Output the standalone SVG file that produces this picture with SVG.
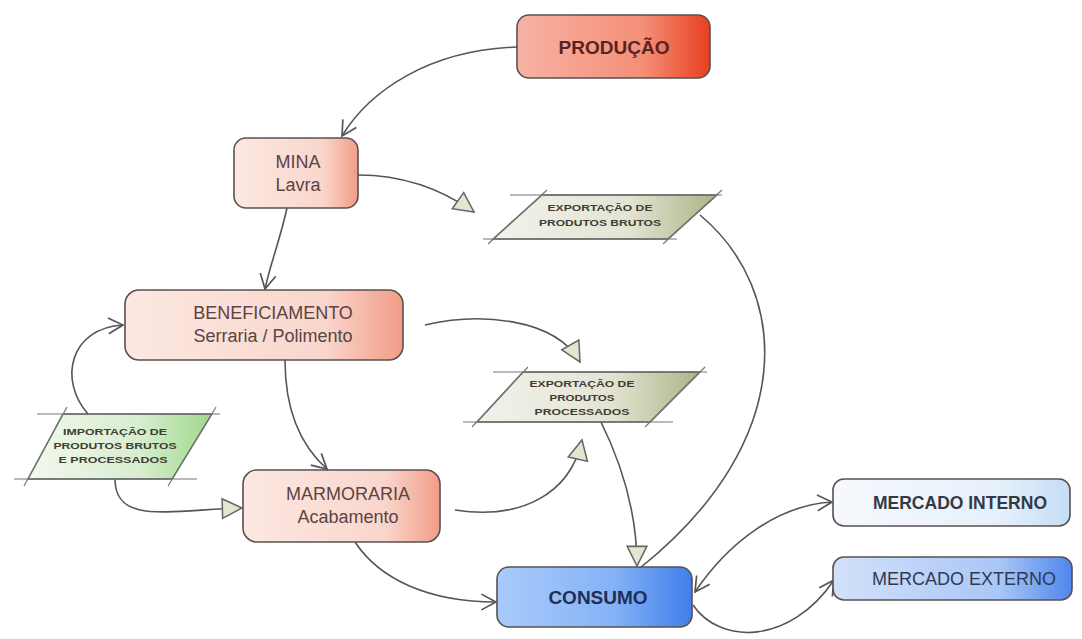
<svg xmlns="http://www.w3.org/2000/svg" width="1082" height="639" viewBox="0 0 1082 639">
<style>
.box{stroke:#5a5050;stroke-width:1.6}
.conn{fill:none;stroke:#555;stroke-width:1.6}
.t{font-family:"Liberation Sans",Arial,sans-serif;text-anchor:middle}
.big{font-size:18px;fill:#5a4444}
.bold{font-weight:bold}
.small{font-size:8.5px;font-weight:bold;fill:#3d3d33}
.para{stroke:#555;stroke-width:1.4}
.ext{stroke:#777;stroke-width:1.2;fill:none}
</style>
<defs>
<linearGradient id="gProd" x1="0" y1="0" x2="1" y2="0">
<stop offset="0" stop-color="#f7b2a4"/><stop offset="0.65" stop-color="#f48f78"/><stop offset="1" stop-color="#e8401f"/>
</linearGradient>
<linearGradient id="gPink" x1="0" y1="0" x2="1" y2="0">
<stop offset="0" stop-color="#fce8e2"/><stop offset="0.72" stop-color="#f9d6cc"/><stop offset="1" stop-color="#f29c86"/>
</linearGradient>
<linearGradient id="gGrey" x1="0" y1="0" x2="1" y2="0">
<stop offset="0" stop-color="#f2f2ec"/><stop offset="0.6" stop-color="#e3e4d4"/><stop offset="1" stop-color="#aeb385"/>
</linearGradient>
<linearGradient id="gGreen" x1="0" y1="0" x2="1" y2="0">
<stop offset="0" stop-color="#f2f8ee"/><stop offset="0.6" stop-color="#d8eed0"/><stop offset="1" stop-color="#9fd88c"/>
</linearGradient>
<linearGradient id="gCons" x1="0" y1="0" x2="1" y2="0">
<stop offset="0" stop-color="#a9cbfa"/><stop offset="0.6" stop-color="#85b2f6"/><stop offset="1" stop-color="#3f7fea"/>
</linearGradient>
<linearGradient id="gInt" x1="0" y1="0" x2="1" y2="0">
<stop offset="0" stop-color="#f6f9fd"/><stop offset="0.7" stop-color="#e6f0fb"/><stop offset="1" stop-color="#c4ddf6"/>
</linearGradient>
<linearGradient id="gExt" x1="0" y1="0" x2="1" y2="0">
<stop offset="0" stop-color="#d2e1fa"/><stop offset="0.7" stop-color="#a9c6f6"/><stop offset="1" stop-color="#4f86ec"/>
</linearGradient>
<marker id="open" markerUnits="userSpaceOnUse" markerWidth="18" markerHeight="18" viewBox="0 0 16 16" refX="14" refY="8" orient="auto">
<path d="M1,1 L14,8 L1,15" fill="none" stroke="#555" stroke-width="1.5"/>
</marker>
<marker id="openS" markerUnits="userSpaceOnUse" markerWidth="18" markerHeight="18" viewBox="0 0 16 16" refX="2" refY="8" orient="auto">
<path d="M15,1 L2,8 L15,15" fill="none" stroke="#555" stroke-width="1.5"/>
</marker>
<marker id="tri" markerUnits="userSpaceOnUse" markerWidth="24" markerHeight="24" viewBox="0 0 22 22" refX="20" refY="11" orient="auto">
<path d="M2,2 L20,11 L2,20 Z" fill="#e4e6d2" stroke="#666" stroke-width="1.4"/>
</marker>
</defs>

<g id="connectors">
<path class="conn" d="M517,47 C430,50 370,90 342,136" marker-end="url(#open)"/>
<path class="conn" d="M358,175 C400,175 440,188 474,212" marker-end="url(#tri)"/>
<path class="conn" d="M287,208 C280,240 270,265 265,289" marker-end="url(#open)"/>
<path class="conn" d="M425,325 C480,312 555,318 580,362" marker-end="url(#tri)"/>
<path class="conn" d="M285,360 C285,410 300,445 327,469" marker-end="url(#open)"/>
<path class="conn" d="M88,414 C58,380 70,328 123,325" marker-end="url(#open)"/>
<path class="conn" d="M115,479 C115,525 170,510 242,508" marker-end="url(#tri)"/>
<path class="conn" d="M455,510 C520,520 570,495 582,440" marker-end="url(#tri)"/>
<path class="conn" d="M355,542 C380,580 430,602 496,602" marker-end="url(#open)"/>
<path class="conn" d="M600,420 C625,470 637,520 637,566" marker-end="url(#tri)"/>
<path class="conn" d="M700,215 C790,290 800,440 640,568"/>
<path class="conn" d="M695,592 C730,540 780,505 832,502" marker-start="url(#openS)" marker-end="url(#open)"/>
<path class="conn" d="M693,605 C720,645 790,645 834,580" marker-end="url(#open)"/>
</g>

<g id="producao">
<rect class="box" x="517" y="15" width="193" height="63" rx="12" fill="url(#gProd)"/>
<text class="t bold" x="614" y="54" font-size="19" fill="#5a2222">PRODUÇÃO</text>
</g>

<g id="mina">
<rect class="box" x="234" y="138" width="124" height="70" rx="12" fill="url(#gPink)"/>
<text class="t big" x="298" y="168">MINA</text>
<text class="t big" x="298" y="191">Lavra</text>
</g>

<g id="export-brutos">
<polygon class="para" points="542,195 717,195 668,239 493,239" fill="url(#gGrey)"/>
<path class="ext" d="M510,195 H722 M483,239 H677 M547,190 L488,244 M722,190 L663,244"/>
<text class="t small" x="600" y="211" textLength="105" lengthAdjust="spacingAndGlyphs">EXPORTAÇÃO DE</text>
<text class="t small" x="600" y="226" textLength="122" lengthAdjust="spacingAndGlyphs">PRODUTOS BRUTOS</text>
</g>

<g id="beneficiamento">
<rect class="box" x="125" y="290" width="278" height="70" rx="14" fill="url(#gPink)"/>
<text class="t big" x="273" y="319">BENEFICIAMENTO</text>
<text class="t big" x="273" y="342">Serraria / Polimento</text>
</g>

<g id="export-processados">
<polygon class="para" points="523,372 700,372 650,422 477,422" fill="url(#gGrey)"/>
<path class="ext" d="M493,372 H707 M463,422 H673 M528,367 L472,427 M705,367 L645,427"/>
<text class="t small" x="582" y="387" textLength="105" lengthAdjust="spacingAndGlyphs">EXPORTAÇÃO DE</text>
<text class="t small" x="582" y="401" textLength="65" lengthAdjust="spacingAndGlyphs">PRODUTOS</text>
<text class="t small" x="582" y="415" textLength="95" lengthAdjust="spacingAndGlyphs">PROCESSADOS</text>
</g>

<g id="importacao">
<polygon class="para" points="63,414 212,414 172,479 28,479" fill="url(#gGreen)"/>
<path class="ext" d="M37,414 H220 M14,479 H197 M67,407 L24,486 M216,407 L168,486"/>
<text class="t small" x="115" y="435" textLength="104" lengthAdjust="spacingAndGlyphs">IMPORTAÇÃO DE</text>
<text class="t small" x="115" y="449" textLength="123" lengthAdjust="spacingAndGlyphs">PRODUTOS BRUTOS</text>
<text class="t small" x="113" y="463" textLength="109" lengthAdjust="spacingAndGlyphs">E PROCESSADOS</text>
</g>

<g id="marmoraria">
<rect class="box" x="243" y="470" width="197" height="72" rx="14" fill="url(#gPink)"/>
<text class="t big" x="348" y="500">MARMORARIA</text>
<text class="t big" x="348" y="523">Acabamento</text>
</g>

<g id="consumo">
<rect class="box" x="497" y="567" width="195" height="60" rx="12" fill="url(#gCons)"/>
<text class="t bold" x="598" y="604" font-size="19" fill="#1f2f55">CONSUMO</text>
</g>

<g id="mercado-interno">
<rect class="box" x="833" y="479" width="237" height="47" rx="11" fill="url(#gInt)"/>
<text class="t bold" x="960" y="509" font-size="17.5" fill="#333a44">MERCADO INTERNO</text>
</g>

<g id="mercado-externo">
<rect class="box" x="833" y="557" width="239" height="43" rx="11" fill="url(#gExt)"/>
<text class="t" x="964" y="585" font-size="18" fill="#2e3a55">MERCADO EXTERNO</text>
</g>
</svg>
